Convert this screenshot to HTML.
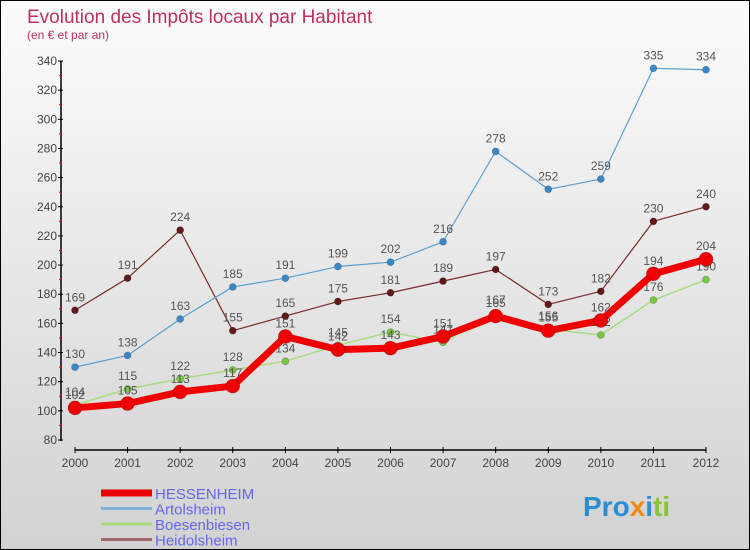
<!DOCTYPE html>
<html><head><meta charset="utf-8"><style>
body{margin:0}
#c{width:748px;height:548px;border:1px solid #000;background:linear-gradient(#fcfcfc,#d2d2d2);position:relative;font-family:"Liberation Sans",sans-serif}
</style></head><body>
<div id="c">
<svg id="s" width="748" height="548" style="position:absolute;left:0;top:0">
<text x="26" y="22" font-size="19" fill="#c0305a">Evolution des Impôts locaux par Habitant</text>
<text x="26" y="38" font-size="12" fill="#c0305a">(en € et par an)</text>
<g id="axes"></g><g id="series"></g><g id="legend"></g>
<text x="582" y="515" font-size="28" font-weight="bold" fill="#2a8fd0">Pro<tspan fill="#f08a1a">x</tspan><tspan fill="#2a8fd0">i</tspan><tspan fill="#8ac43a">ti</tspan></text>
</svg>
</div>
<script>
const years=[2000,2001,2002,2003,2004,2005,2006,2007,2008,2009,2010,2011,2012];
const yTicks=[80,100,120,140,160,180,200,220,240,260,280,300,320,340];
const seriesNames=["HESSENHEIM","Artolsheim","Boesenbiesen","Heidolsheim"];
const hessenheim=[102,105,113,117,151,142,143,151,165,155,162,194,204];
const artolsheim=[130,138,163,185,191,199,202,216,278,252,259,335,334];
const boesenbiesen=[104,115,122,128,134,145,154,147,167,156,152,176,190];
const heidolsheim=[169,191,224,155,165,175,181,189,197,173,182,230,240];
const NS="http://www.w3.org/2000/svg";
function X(i){return 74+i*(705-74)/12;}
function Y(v){return 439-(v-80)*(439-60)/260;}
function el(t,a,p){const e=document.createElementNS(NS,t);for(const k in a)e.setAttribute(k,a[k]);p.appendChild(e);return e;}
const ax=document.getElementById('axes');
let l=el('line',{x1:60,y1:60,x2:60,y2:440,stroke:'#000','stroke-width':1.5},ax);

l=el('line',{x1:74,y1:449,x2:705,y2:449,stroke:'#000','stroke-width':1.5},ax);

yTicks.forEach((v,i)=>{
 el('line',{x1:57,y1:Y(v),x2:62,y2:Y(v),stroke:'#000'},ax);
 if(i<yTicks.length-1)el('line',{x1:58,y1:Y(v+10),x2:61,y2:Y(v+10),stroke:'#e00'},ax);
 const t=el('text',{x:56,y:Y(v)+4,'font-size':12,fill:'#444','text-anchor':'end'},ax);t.textContent=v;
 
});
years.forEach((y,i)=>{
 el('line',{x1:X(i),y1:446,x2:X(i),y2:452,stroke:'#000'},ax);
 const t=el('text',{x:X(i),y:466,'font-size':12,fill:'#444','text-anchor':'middle'},ax);t.textContent=y;
 
});
const sg=document.getElementById('series');
const defs=[[heidolsheim,'#7a2a2a','#601818',1.2,3.5],[artolsheim,'#5aa0d0','#3a88c8',1.2,3.5],[boesenbiesen,'#a8dc80','#78c840',1.5,3.5],[hessenheim,'#f00000','#f00000',7,7]];
const order=[3,1,2,0];
defs.forEach((d,k)=>{
 const vals=d[0];
 const g=el('g',{},sg);
 
 
 el('polyline',{points:vals.map((v,i)=>X(i)+','+Y(v)).join(' '),fill:'none',stroke:d[1],'stroke-width':d[3],'stroke-linejoin':'round'},g);
 vals.forEach((v,i)=>{
  const c=el('circle',{cx:X(i),cy:Y(v),r:d[4],fill:d[2],stroke:'rgba(0,0,0,0.25)','stroke-width':0.7},g);
  
  const t=el('text',{x:X(i),y:Y(v)-9,'font-size':12,fill:'#555','text-anchor':'middle'},g);t.textContent=v;
  
 });
});
const lg=document.getElementById('legend');
const lcol=['#ee0000','#80b0d8','#a8dc80','#a06868'];
const lw=[7,3,3,3];
seriesNames.forEach((n,i)=>{
 const y=492+i*15.5;
 const g=el('g',{},lg);
 
 el('line',{x1:100,y1:y,x2:151,y2:y,stroke:lcol[i],'stroke-width':lw[i]},g);
 const t=el('text',{x:154,y:y+6,'font-size':15,fill:'#6666ee'},g);t.textContent=n;
});
</script>
</body></html>
